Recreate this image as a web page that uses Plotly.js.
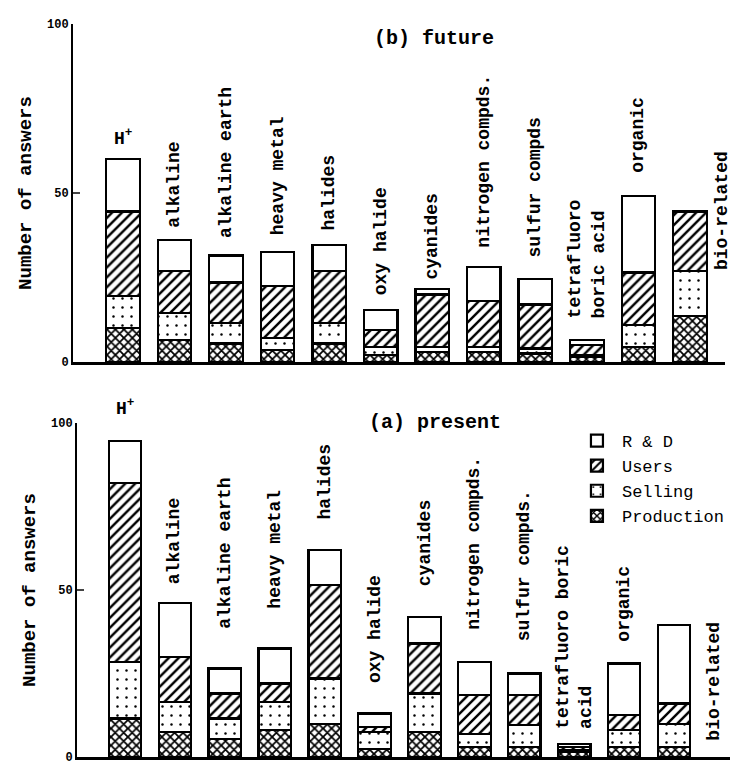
<!DOCTYPE html>
<html>
<head>
<meta charset="utf-8">
<script src="https://cdn.plot.ly/plotly-3.0.1.min.js"></script>
<style>html,body{margin:0;padding:0;background:#fff;}#chart{width:738px;height:767px;}</style>
</head>
<body>
<div id="chart"></div>
<script>
// ---- data ----
const categories = ['H+','alkaline','alkaline earth','heavy metal','halides','oxy halide','cyanides','nitrogen compds.','sulfur compds','tetrafluoro boric acid','organic','bio-related'];
const seriesNames = ['Production','Selling','Users','R & D'];

// (b) future
const futureProduction = [10, 6.5, 5.5, 3.5, 5.5, 2, 3, 3, 2.5, 1.5, 4.5, 13.5];
const futureSelling    = [9.5, 8, 6, 3.5, 6, 2.5, 1.5, 1.5, 1.5, 0.5, 6.5, 13.5];
const futureUsers      = [25, 12.5, 12, 15.5, 15.5, 5, 15.5, 13.5, 13, 3, 15.5, 17.5];
const futureRD         = [15.5, 9, 8, 10, 7.5, 6, 1.5, 10, 7.5, 1.5, 22.5, 0];

// (a) present
const presentProduction = [11.5, 7.5, 5.5, 8, 10, 2.5, 7.5, 3, 3, 1.5, 3, 3];
const presentSelling    = [17, 9, 6, 8.5, 13.5, 5, 11.5, 4, 6.5, 0.5, 5, 7];
const presentUsers      = [53.5, 13.5, 7.5, 5.5, 28, 1.5, 15, 11.5, 9, 1, 4.5, 6];
const presentRD         = [12.5, 16, 7.5, 10.5, 10.5, 4, 8, 10, 6.5, 1, 15.5, 23.5];

const yTicks = [0, 50, 100];
const topLabels = ['H<sup>+</sup>','alkaline','alkaline earth','heavy metal','halides','oxy halide','cyanides','nitrogen compds.','sulfur compds','tetrafluoro<br>boric acid','organic','bio-related'];
const bottomLabels = ['H<sup>+</sup>','alkaline','alkaline earth','heavy metal','halides','oxy halide','cyanides','nitrogen compds.','sulfur compds.','tetrafluoro boric<br>acid','organic','bio-related'];

// ---- label placement (px) ----
const topLabelYShift = [8,10,15,15,13,12,8,18,20,20,22,-60];
const topLabelXShift = [0,0,0,0,0,0,0,0,0,0,0,32];
const bottomLabelYShift = [20,17,38,38,28,28,29,30,30,13,20,-118];
const bottomLabelXShift = [0,0,0,0,0,0,0,0,0,0,0,39];

// ---- styles ----
const FONT = 'Liberation Mono, DejaVu Sans Mono, monospace';
const styles = [
  {pattern:{shape:'x', fgcolor:'#000', bgcolor:'#fff', size:6, solidity:0.5}},
  {pattern:{shape:'.', fgcolor:'#000', bgcolor:'#fff', size:9, solidity:0.06}},
  {pattern:{shape:'/', fgcolor:'#000', bgcolor:'#fff', size:7, solidity:0.35}},
  {pattern:{shape:'', fgcolor:'#000', bgcolor:'#fff'}}
];

function makeTraces(seriesList, xa, ya, showLegend) {
  return seriesList.map((vals, i) => ({
    type:'bar', x:categories, y:vals, name:seriesNames[i],
    xaxis:xa, yaxis:ya, legendgroup:seriesNames[i], showlegend:showLegend,
    marker:{color:'#fff', line:{color:'#000', width:2.2}, pattern:styles[i].pattern},
    hoverinfo:'skip'
  }));
}

const futureSeries = [futureProduction, futureSelling, futureUsers, futureRD];
const presentSeries = [presentProduction, presentSelling, presentUsers, presentRD];
const data = [
  ...makeTraces(presentSeries, 'x', 'y', true),
  ...makeTraces(futureSeries, 'x2', 'y2', false)
];

function totals(series) { return categories.map((_, j) => series.reduce((s, a) => s + a[j], 0)); }
const futureTotals = totals(futureSeries);
const presentTotals = totals(presentSeries);

const annotations = [];
categories.forEach((c, j) => {
  const isH = j === 0;
  annotations.push({
    xref:'x2', yref:'y2', x:c, y:futureTotals[j], text:'<b>'+topLabels[j]+'</b>',
    showarrow:false, textangle: isH ? 0 : -90, xanchor:'center', yanchor:'bottom', align:'left',
    yshift:topLabelYShift[j], xshift:topLabelXShift[j],
    font:{family:FONT, size:18, color:'#000'}
  });
  annotations.push({
    xref:'x', yref:'y', x:c, y:presentTotals[j], text:'<b>'+bottomLabels[j]+'</b>',
    showarrow:false, textangle: isH ? 0 : -90, xanchor:'center', yanchor:'bottom', align:'left',
    yshift:bottomLabelYShift[j], xshift:bottomLabelXShift[j],
    font:{family:FONT, size:18, color:'#000'}
  });
});
annotations.push({xref:'paper', yref:'paper', x:0.588, y:1-38/767, text:'<b>(b) future</b>', showarrow:false,
  xanchor:'center', yanchor:'middle', font:{family:FONT, size:20, color:'#000'}});
annotations.push({xref:'paper', yref:'paper', x:0.589, y:1-422/767, text:'<b>(a) present</b>', showarrow:false,
  xanchor:'center', yanchor:'middle', font:{family:FONT, size:20, color:'#000'}});

const yAxisCommon = {
  range:[0,100], tickvals:yTicks, ticktext:yTicks.map(v => '<b>'+v+'</b>'), ticks:'inside', ticklen:7, tickwidth:2,
  showline:true, linewidth:2, linecolor:'#000', showgrid:false, zeroline:false,
  tickfont:{family:FONT, size:12, color:'#000'},
  title:{text:'<b>Number of answers</b>', font:{family:FONT, size:19, color:'#000'}, standoff:10}
};
const xAxisCommon = {
  type:'category', showticklabels:false, ticks:'', showline:true, linewidth:2.5, linecolor:'#000',
  showgrid:false, zeroline:false
};

const layout = {
  width:738, height:767, margin:{l:0, r:0, t:0, b:0},
  paper_bgcolor:'#fff', plot_bgcolor:'#fff',
  barmode:'stack', bargap:0.35,
  showlegend:true,
  legend:{x:0.775, y:1-423/767, xanchor:'left', yanchor:'top', traceorder:'reversed',
    font:{family:FONT, size:17, color:'#000'}, bgcolor:'rgba(0,0,0,0)', tracegroupgap:2, itemwidth:40},
  xaxis:Object.assign({}, xAxisCommon, {domain:[77/738, 730/738], range:[-0.96, 12.12], anchor:'y'}),
  yaxis:Object.assign({}, yAxisCommon, {domain:[1-757/767, 1-423/767], anchor:'x'}),
  xaxis2:Object.assign({}, xAxisCommon, {domain:[73/738, 725/738], range:[-0.97, 11.68], anchor:'y2'}),
  yaxis2:Object.assign({}, yAxisCommon, {domain:[1-362/767, 1-24/767], anchor:'x2'}),
  annotations:annotations
};

Plotly.newPlot('chart', data, layout, {displayModeBar:false, staticPlot:true});
</script>
</body>
</html>
